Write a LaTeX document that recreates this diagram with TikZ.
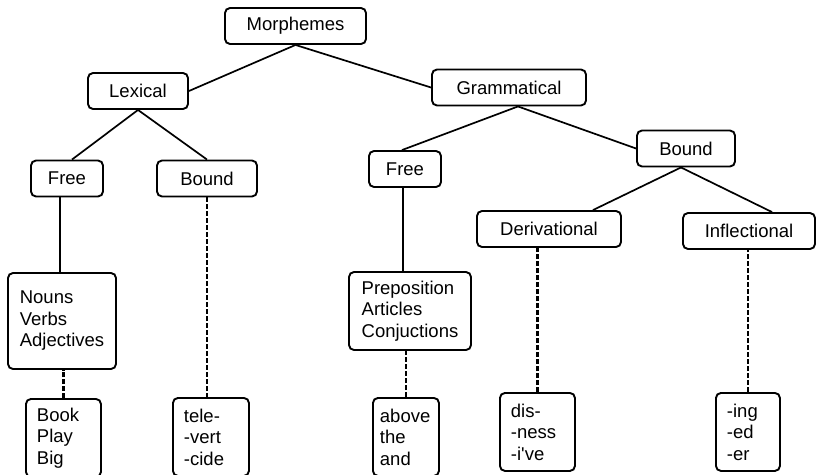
\documentclass[tikz,border=0pt]{standalone}
\usepackage{fontspec}
\setmainfont{Liberation Sans}

\begin{document}
\begin{tikzpicture}[x=1pt,y=-1pt,
    box/.style={draw, line width=1.9pt, rounded corners=5pt, inner sep=0pt,
      font=\fontsize{18.5}{21.5}\selectfont},
    cat/.style={box, minimum width=#1, minimum height=36pt},
    words/.style={box, anchor=north west, align=left, inner xsep=11pt,
      text width=#1, minimum height=78pt},
    link/.style={line width=1.7pt},
    dots/.style={line width=2.8pt, dash pattern=on 5pt off 2pt}]
    \clip (0,0) rectangle (816,474);

    % tree of categories
    \node[cat=141pt] (morph) at (295.5,26) {Morphemes};
    \node[cat=100pt] (lex) at (138,91) {Lexical};
    \node[cat=154pt] (gram) at (509,87.5) {Grammatical};
    \node[cat=72pt] (lfree) at (67,178.5) {Free};
    \node[cat=100pt] (lbound) at (207,178.5) {Bound};
    \node[cat=72pt] (gfree) at (405,169) {Free};
    \node[cat=98pt] (gbound) at (686,148.5) {Bound};
    \node[cat=144pt] (deriv) at (549,229) {Derivational};
    \node[cat=132pt] (infl) at (749,231) {Inflectional};

    % word classes and examples
    \node[box, align=left, minimum width=108pt, minimum height=96pt] (nouns) at (62,321)
      {Nouns\\Verbs\\Adjectives};
    \node[box, align=left, minimum width=122pt, minimum height=78pt] (prep) at (410,311)
      {Preposition\\Articles\\Conjuctions};
    \node[words=53pt] (book) at (25,398) {Book\\Play\\Big};
    \node[words=54pt] (tele) at (172,397) {tele-\\-vert\\-cide};
    \node[words=52pt, inner xsep=7pt] (above) at (372,397) {above\\the\\and};
    \node[words=53pt] (dis) at (499,392) {dis-\\-ness\\-i\textquotesingle ve};
    \node[words=42pt] (ing) at (715,392) {-ing\\-ed\\-er};

    \draw[link] (morph.south) -- (lex.east);
    \draw[link] (morph.south) -- (gram.west);
    \draw[link] (lex.south) -- ([xshift=5pt]lfree.north);
    \draw[link] (lex.south) -- (lbound.north);
    \draw[link] ([xshift=9pt]gram.south) -- ([xshift=-3pt]gfree.north);
    \draw[link] ([xshift=9pt]gram.south) -- (gbound.west);
    \draw[link] ([xshift=-5pt]gbound.south) -- ([xshift=44pt]deriv.north);
    \draw[link] ([xshift=-5pt]gbound.south) -- ([xshift=23pt]infl.north);
    \draw[link] ([xshift=-7pt]lfree.south) -- ([xshift=-7pt]lfree.south |- nouns.north);
    \draw[link] ([xshift=-2pt]gfree.south) -- ([xshift=-2pt]gfree.south |- prep.north);

    \draw[dots] (book.north) -- (book.north |- nouns.south);
    \draw[dots] (lbound.south) -- (lbound.south |- tele.north);
    \draw[dots] (above.north) -- (above.north |- prep.south);
    \draw[dots] (dis.north) -- (dis.north |- deriv.south);
    \draw[dots] (ing.north) -- (ing.north |- infl.south);
\end{tikzpicture}
\end{document}
